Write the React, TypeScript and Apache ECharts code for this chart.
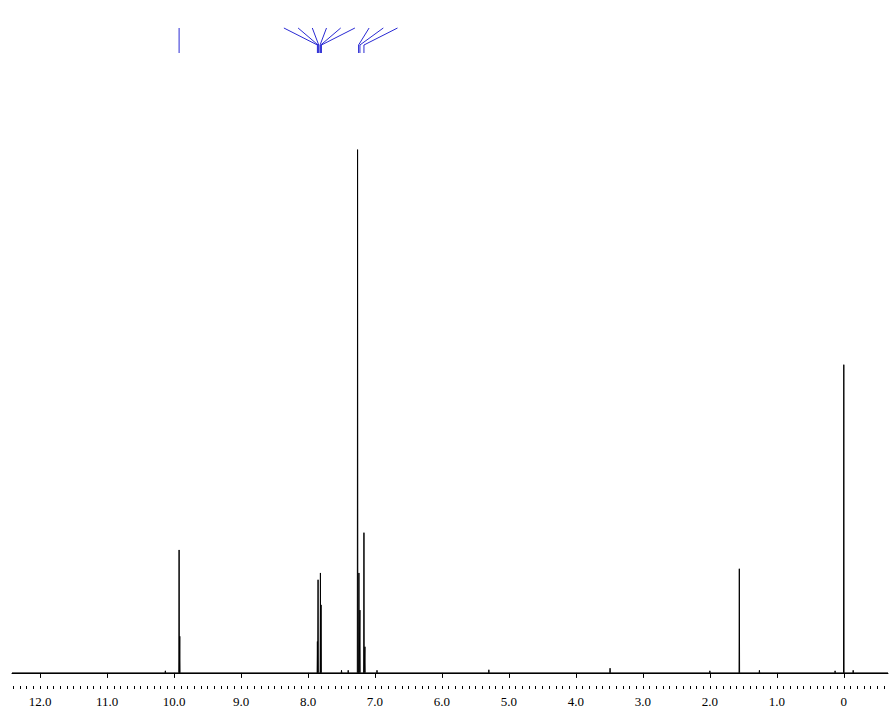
import React, { useEffect, useRef } from 'react';
import * as echarts from 'echarts';

// Chemical shift range shown (ppm), axis runs right-to-left
const X_MIN = -0.66;
const X_MAX = 12.42;

// Peaks: position (ppm) and height (% of tallest peak)
const peakPpm = [
  10.13, 9.925, 9.915, 7.86, 7.85, 7.815, 7.805, 7.5, 7.4, 7.26, 7.24, 7.225,
  7.165, 7.15, 6.97, 5.3, 3.49, 2.0, 1.56, 1.26, 0.13, 0.0, -0.14,
];
const peakHeight = [
  0.4, 23.5, 7, 6, 17.8, 19.1, 13, 0.5, 0.5, 100, 19.1, 12,
  26.8, 5, 0.5, 0.6, 0.9, 0.4, 19.9, 0.5, 0.4, 58.9, 0.5,
];

// Peak-picking label groups (ppm of the picked lines)
const labelGroups = [
  [9.925],
  [7.86, 7.85, 7.84, 7.82, 7.81, 7.8],
  [7.245, 7.225, 7.165],
];

// Axis ticks
const majorTicks = [0, 1, 2, 3, 4, 5, 6, 7, 8, 9, 10, 11, 12];
const tickLabels = ['0', '1.0', '2.0', '3.0', '4.0', '5.0', '6.0', '7.0', '8.0', '9.0', '10.0', '11.0', '12.0'];

function buildMinorTicks(): number[] {
  const out: number[] = [];
  for (let k = -6; k <= 124; k++) out.push(Math.round(k) / 10);
  return out;
}

function buildSpectrum(): number[][] {
  const pts: number[][] = [[X_MAX, 0]];
  const idx = peakPpm.map((_, i) => i).sort((a, b) => peakPpm[b] - peakPpm[a]);
  const w = 0.004;
  for (const i of idx) {
    const p = peakPpm[i];
    const h = peakHeight[i];
    pts.push([p + w, 0], [p, h], [p - w, 0]);
  }
  pts.push([X_MIN, 0]);
  return pts;
}

export default function App() {
  const ref = useRef<HTMLDivElement>(null);

  useEffect(() => {
    if (!ref.current) return;
    const chart = echarts.init(ref.current, null, { renderer: 'svg' });
    const serif = '"Liberation Serif", "Times New Roman", serif';
    const blue = '#2a2ad4';

    const renderLabels = (params: any, api: any) => {
      const gap = 14.2;
      const topY = 28;
      const elbowY = 45;
      const bottomY = 53;
      const children: any[] = [];
      let prevRight = -Infinity;
      for (const group of labelGroups) {
        const xs = group.map((p) => api.coord([p, 0])[0]);
        const center = xs.reduce((a, b) => a + b, 0) / xs.length;
        let start = center - ((group.length - 1) * gap) / 2;
        if (start < prevRight + gap) start = prevRight + gap;
        xs.forEach((bx, j) => {
          const tx = start + j * gap;
          children.push({
            type: 'polyline',
            shape: { points: [[tx, topY], [bx, elbowY], [bx, bottomY]] },
            style: { stroke: blue, lineWidth: 1, fill: null },
          });
        });
        prevRight = start + (group.length - 1) * gap;
      }
      return { type: 'group', children };
    };

    chart.setOption({
      animation: false,
      backgroundColor: '#ffffff',
      grid: { left: 12, right: 4, top: 147, bottom: 23, containLabel: false },
      xAxis: [
        {
          type: 'value',
          min: X_MIN,
          max: X_MAX,
          inverse: true,
          position: 'bottom',
          axisLine: { show: true, lineStyle: { color: '#000', width: 1 } },
          axisTick: { show: true, customValues: majorTicks, length: 5, lineStyle: { color: '#000', width: 1 } },
          axisLabel: {
            show: true,
            customValues: majorTicks,
            margin: 9,
            color: '#000',
            fontFamily: serif,
            fontSize: 13,
            formatter: (v: number) => {
              const i = majorTicks.indexOf(Math.round(v));
              return i >= 0 ? tickLabels[i] : '';
            },
          },
          splitLine: { show: false },
        },
        {
          type: 'value',
          min: X_MIN,
          max: X_MAX,
          inverse: true,
          position: 'bottom',
          offset: 0,
          axisLine: { show: false },
          axisTick: { show: true, customValues: buildMinorTicks(), length: 3, lineStyle: { color: '#000', width: 1 } },
          axisLabel: { show: false },
          splitLine: { show: false },
        },
      ],
      yAxis: { type: 'value', min: -2.5, max: 100.5, show: false, splitLine: { show: false } },
      series: [
        {
          type: 'line',
          xAxisIndex: 0,
          data: buildSpectrum(),
          showSymbol: false,
          symbol: 'none',
          lineStyle: { color: '#000', width: 1 },
          silent: true,
        },
        {
          type: 'custom',
          xAxisIndex: 0,
          coordinateSystem: 'cartesian2d',
          clip: false,
          silent: true,
          data: [[0, 0]],
          renderItem: renderLabels,
        },
      ],
    });

    return () => chart.dispose();
  }, []);

  return (
    <div
      ref={ref}
      style={{ position: 'fixed', left: 0, top: 0, width: 892, height: 709, background: '#fff' }}
    />
  );
}
